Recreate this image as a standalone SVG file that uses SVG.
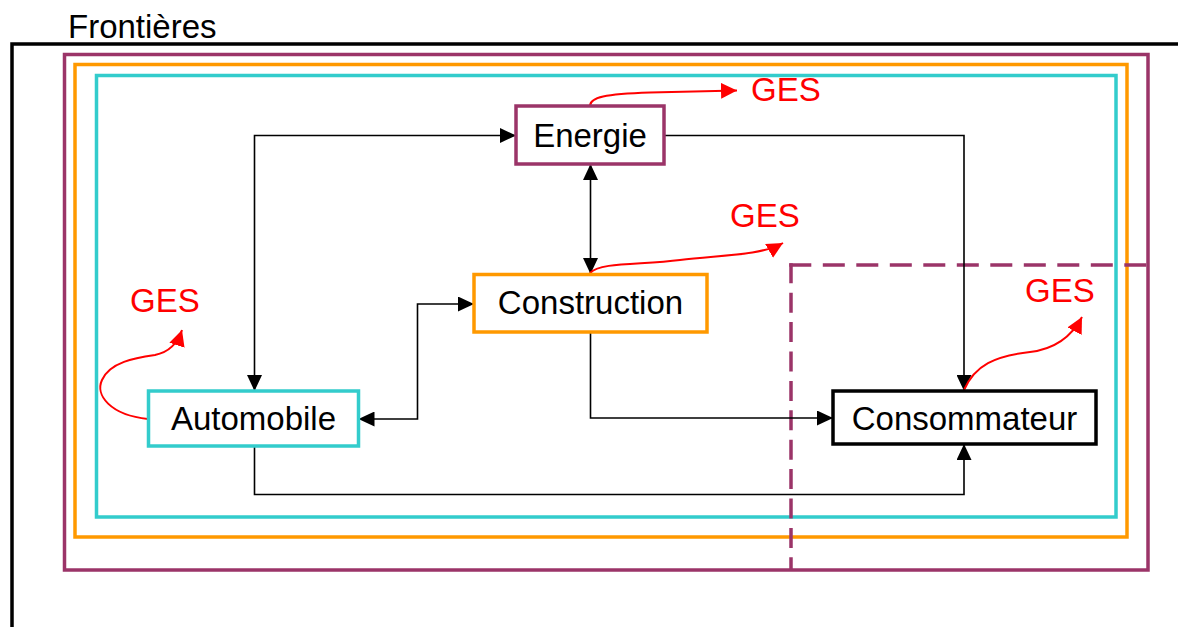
<svg xmlns="http://www.w3.org/2000/svg" width="1178" height="627" viewBox="0 0 1178 627">
  <style>
    .lbl { font-family: "Liberation Sans", Arial, sans-serif; font-size: 33px; fill: #000; }
    .ges { font-family: "Liberation Sans", Arial, sans-serif; font-size: 33px; fill: #ff0000; }
    .frame { fill: none; stroke-width: 3.5; }
    .purple { stroke: #9b3468; }
    .orange { stroke: #ff9900; }
    .cyan { stroke: #33cccc; }
    .box { fill: #fff; stroke-width: 3.5; }
    .link { fill: none; stroke: #000; stroke-width: 1.6; }
    .emit { fill: none; stroke: #ff0000; stroke-width: 2; }
  </style>
  <defs>
    <marker id="arrow" markerUnits="userSpaceOnUse" markerWidth="16" markerHeight="15" refX="16" refY="7.5" orient="auto-start-reverse">
      <path d="M0,0 L16,7.5 L0,15 z" fill="#000"/>
    </marker>
    <marker id="arrowRed" markerUnits="userSpaceOnUse" markerWidth="16" markerHeight="16" refX="16" refY="8" orient="auto">
      <path d="M0,0 L16,8 L0,16 z" fill="#ff0000"/>
    </marker>
  </defs>

  <!-- boundaries -->
  <g id="boundaries">
    <text class="lbl" x="68" y="38">Frontières</text>
    <path class="frame" stroke="#000" stroke-width="3" d="M12,627 V44 H1180"/>
    <rect class="frame purple" x="64.5" y="54.5" width="1083.5" height="515.5"/>
    <rect class="frame orange" x="75" y="64.5" width="1052" height="472.5"/>
    <rect class="frame cyan" x="96.5" y="75.5" width="1019.5" height="441.5"/>
    <!-- consumer-side boundary, dashed, drawn out from its corner -->
    <path class="frame purple" stroke-dasharray="22 11.5" d="M789.3,265 H1148"/>
    <path class="frame purple" stroke-dasharray="20 9.4" d="M791,263.3 V570"/>
  </g>

  <!-- connectors -->
  <g id="connectors">
    <path class="link" d="M516,135.5 H254.5 V391" marker-start="url(#arrow)" marker-end="url(#arrow)"/>
    <path class="link" d="M590.5,164 V274" marker-start="url(#arrow)" marker-end="url(#arrow)"/>
    <path class="link" d="M664,135.5 H964 V391" marker-end="url(#arrow)"/>
    <path class="link" d="M474,304 H417.5 V419 H358.5" marker-start="url(#arrow)" marker-end="url(#arrow)"/>
    <path class="link" d="M590.5,332 V418 H833" marker-end="url(#arrow)"/>
    <path class="link" d="M254.5,446 V494.5 H964 V444" marker-end="url(#arrow)"/>

    <path class="emit" d="M590,106 C590,97 605,94 650,92.5 L737,90.5" marker-end="url(#arrowRed)"/>
    <path class="emit" d="M590,273 C600,262 640,265 680,260 S760,256 783,243" marker-end="url(#arrowRed)"/>
    <path class="emit" d="M148,419 C110,415 95,395 102,380 C110,362 135,358 155,355 C170,352 178,342 182,330" marker-end="url(#arrowRed)"/>
    <path class="emit" d="M964,390 C975,365 995,356 1030,352 C1055,349 1072,336 1082,317" marker-end="url(#arrowRed)"/>
  </g>

  <!-- GES labels -->
  <g id="emissions">
    <text class="ges" x="751" y="101">GES</text>
    <text class="ges" x="730" y="227">GES</text>
    <text class="ges" x="130" y="312">GES</text>
    <text class="ges" x="1025" y="302">GES</text>
  </g>

  <g id="energie">
    <rect class="box purple" x="516" y="106" width="148" height="58"/>
    <text class="lbl" x="590" y="146.5" text-anchor="middle">Energie</text>
  </g>
  <g id="construction">
    <rect class="box orange" x="474" y="274.5" width="233" height="57.5"/>
    <text class="lbl" x="590.5" y="313.5" text-anchor="middle">Construction</text>
  </g>
  <g id="automobile">
    <rect class="box cyan" x="148.5" y="391" width="210" height="55"/>
    <text class="lbl" x="253.5" y="429.5" text-anchor="middle">Automobile</text>
  </g>
  <g id="consommateur">
    <rect class="box" stroke="#000" stroke-width="1.8" x="833" y="391" width="263" height="53"/>
    <text class="lbl" x="964.5" y="429.5" text-anchor="middle">Consommateur</text>
  </g>
</svg>
